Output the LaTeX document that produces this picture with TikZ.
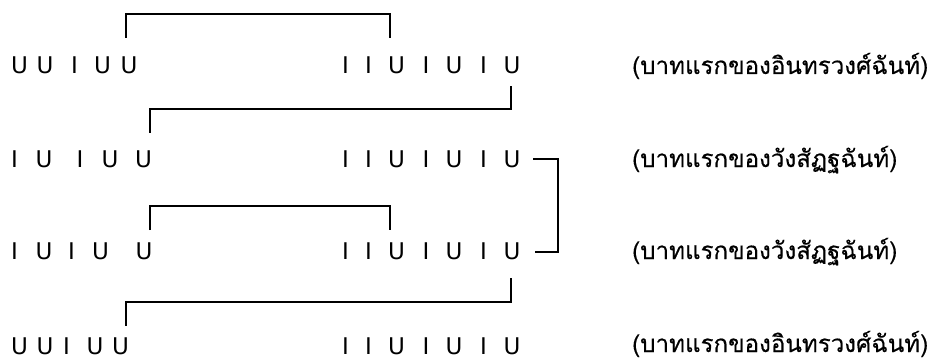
\documentclass[tikz,border=0pt]{standalone}
\usepackage{fontspec}
\setmainfont{DejaVu Sans}
\newfontfamily\thaifont[Script=Thai, FakeBold=0.3]{Loma}
\newlength{\thaiwd}
\begin{document}
\settowidth{\thaiwd}{\thaifont\fontsize{24}{24}\selectfont (บาทแรกของอินทรวงศ์ฉันท์)}%
\pgfmathsetmacro{\thaisize}{24*296/\thaiwd}%
\begin{tikzpicture}[x=1pt,y=-1pt,
  glyph/.style={inner sep=0pt, anchor=base, font=\fontsize{23}{23}\selectfont},
  lab/.style={inner sep=0pt, anchor=base west, font=\thaifont\fontsize{\thaisize}{\thaisize}\selectfont},
  brk/.style={line width=1.6pt, line cap=butt, line join=miter}]
\useasboundingbox (0,0) rectangle (931,361);
\fill[white] (0,0) rectangle (931,361);
% right halves (same in all rows)
\foreach \r/\yy in {1/74,2/167,3/259,4/354}{
  \foreach \g/\x [count=\i] in {I/345.5,I/368.5,U/396.5,I/426,U/454,I/483.5,U/512}
    \node[glyph] (r\r b\i) at (\x,\yy) {\g};
}
% left halves
\foreach \g/\x [count=\i] in {U/19.5,U/45,I/74.5,U/102.5,U/129}
  \node[glyph] (r1a\i) at (\x,74) {\g};
\foreach \g/\x [count=\i] in {I/14.5,U/44,I/80,U/110,U/143.5}
  \node[glyph] (r2a\i) at (\x,167) {\g};
\foreach \g/\x [count=\i] in {I/14.5,U/44,I/71.5,U/100.5,U/144}
  \node[glyph] (r3a\i) at (\x,259) {\g};
\foreach \g/\x [count=\i] in {U/19.5,U/45,I/66.5,U/95,U/120.5}
  \node[glyph] (r4a\i) at (\x,354) {\g};
% labels
\node[lab] (l1) at (632,74) {(บาทแรกของอินทรวงศ์ฉันท์)};
\node[lab] (l2) at (632,167) {(บาทแรกของวังสัฏฐฉันท์)};
\node[lab] (l3) at (632,259) {(บาทแรกของวังสัฏฐฉันท์)};
\node[lab] (l4) at (632,352) {(บาทแรกของอินทรวงศ์ฉันท์)};
% bracket end points
\coordinate (c1s) at (126,38);  \coordinate (c1e) at (390,38);
\coordinate (c2s) at (510.7,86); \coordinate (c2e) at (150,133);
\coordinate (c3s) at (533,159); \coordinate (c3e) at (535,252);
\coordinate (c4s) at (150,230); \coordinate (c4e) at (390,230);
\coordinate (c5s) at (510.7,278); \coordinate (c5e) at (126,326);
\draw[brk] (c1s) -- ++(0,-24) -| (c1e);
\draw[brk] (c2s) |- (150,109) -- (c2e);
\draw[brk] (c3s) -- (558,159) |- (c3e);
\draw[brk] (c4s) -- ++(0,-24) -| (c4e);
\draw[brk] (c5s) |- (126,302) -- (c5e);
\end{tikzpicture}
\end{document}
